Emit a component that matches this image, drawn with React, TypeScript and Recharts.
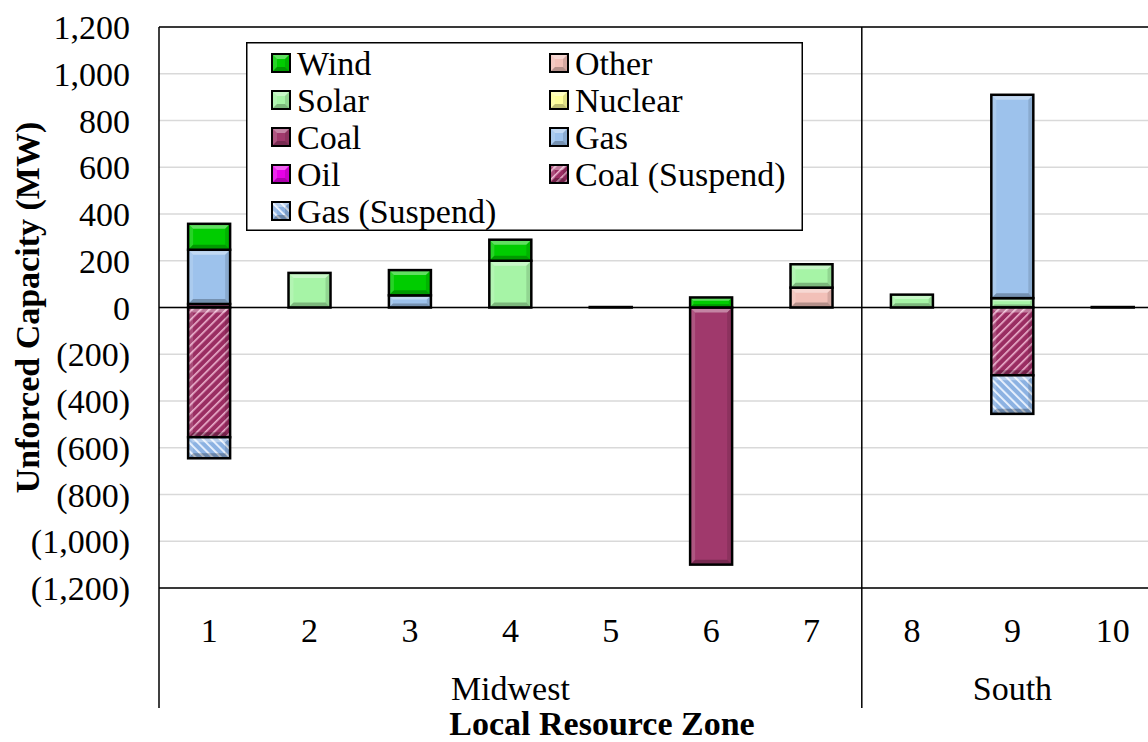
import React from 'react';
import { BarChart, Bar, XAxis, YAxis, CartesianGrid, ReferenceLine, Legend } from 'recharts';

// ---- data ----
const zones = ['1', '2', '3', '4', '5', '6', '7', '8', '9', '10'];
const regions = ['Midwest', 'Midwest', 'Midwest', 'Midwest', 'Midwest', 'Midwest', 'Midwest', 'South', 'South', 'South'];
const wind = [111, 0, 108, 90, 0, 43, 0, 0, 0, 0];
const solar = [0, 148, 0, 200, 2, 0, 100, 55, 40, 2];
const coal = [15, 0, 0, 0, 0, -1100, 0, 0, 0, 0];
const oil = [0, 0, 0, 0, 0, 0, 0, 0, 0, 0];
const other = [0, 0, 0, 0, 0, 0, 85, 0, 0, 0];
const nuclear = [0, 0, 0, 0, 0, 0, 0, 0, 0, 0];
const gas = [232, 0, 52, 0, 0, 0, 0, 0, 870, 0];
const coalSuspend = [-555, 0, 0, 0, 0, 0, 0, 0, -290, 0];
const gasSuspend = [-90, 0, 0, 0, 0, 0, 0, 0, -165, 0];
const yTicks = [-1200, -1000, -800, -600, -400, -200, 0, 200, 400, 600, 800, 1000, 1200];

// stacking order (bottom to top)
const series = [
  { key: 'coal', name: 'Coal', values: coal, fill: '#A0396C' },
  { key: 'oil', name: 'Oil', values: oil, fill: '#E800E8' },
  { key: 'other', name: 'Other', values: other, fill: '#F2C0B8' },
  { key: 'nuclear', name: 'Nuclear', values: nuclear, fill: '#FFFF99' },
  { key: 'solar', name: 'Solar', values: solar, fill: '#A6F4A6' },
  { key: 'gas', name: 'Gas', values: gas, fill: '#9DC2EC' },
  { key: 'wind', name: 'Wind', values: wind, fill: '#00CC00' },
  { key: 'coalSuspend', name: 'Coal (Suspend)', values: coalSuspend, fill: 'url(#pat-coalSuspend)' },
  { key: 'gasSuspend', name: 'Gas (Suspend)', values: gasSuspend, fill: 'url(#pat-gasSuspend)' },
];
const legendOrder = ['wind', 'other', 'solar', 'nuclear', 'coal', 'gas', 'oil', 'coalSuspend', 'gasSuspend'];

const data = zones.map((z, i) => {
  const row: Record<string, any> = { zone: z, region: regions[i] };
  series.forEach((s) => {
    row[s.key] = s.values[i] === 0 ? null : s.values[i];
  });
  return row;
});

// ---- layout ----
const CHART_W = 1204;
const CHART_H = 742;
const MARGIN = { top: 27, right: 41, bottom: 0, left: 0 };
const Y_AXIS_W = 159;
const X_AXIS_H = 154;
const PLOT_W = CHART_W - MARGIN.left - MARGIN.right - Y_AXIS_W;
const PLOT_H = CHART_H - MARGIN.top - MARGIN.bottom - X_AXIS_H;
const BAND = PLOT_W / zones.length;
const FONT = "'Liberation Serif', 'Times New Roman', Times, serif";
const FS = 34;
const LEG_W = 557;
const LEG_H = 189;

const fmt = (v: number) =>
  v < 0 ? `(${Math.abs(v).toLocaleString('en-US')})` : v.toLocaleString('en-US');

function PatternDefs({ prefix }: { prefix: string }) {
  return (
    <defs>
      <pattern id={`${prefix}-coalSuspend`} patternUnits="userSpaceOnUse" width="6" height="6" patternTransform="rotate(45)">
        <rect width="6" height="6" fill="#9A2D62" />
        <rect x="0" y="0" width="1.6" height="6" fill="#EDB3CF" />
      </pattern>
      <pattern id={`${prefix}-gasSuspend`} patternUnits="userSpaceOnUse" width="6" height="6" patternTransform="rotate(-45)">
        <rect width="6" height="6" fill="#8CB2E2" />
        <rect x="0" y="0" width="1.8" height="6" fill="#EEF5FF" />
      </pattern>
    </defs>
  );
}

// bevelled rectangle (Excel "soft bevel" look)
function bevelRect(x: number, y: number, w: number, h: number, fill: string, sw: number, key?: string) {
  let yy = y;
  let hh = h;
  if (hh < 0) {
    yy = y + hh;
    hh = -hh;
  }
  let xx = x;
  let ww = w;
  if (ww < 0) {
    xx = x + ww;
    ww = -ww;
  }
  const b = Math.max(0, Math.min(5, hh / 3, ww / 3));
  const x2 = xx + ww;
  const y2 = yy + hh;
  return (
    <g key={key}>
      <rect x={xx} y={yy} width={ww} height={hh} fill={fill} />
      {b > 0.6 && (
        <>
          <polygon points={`${xx},${yy} ${x2},${yy} ${x2 - b},${yy + b} ${xx + b},${yy + b}`} fill="#fff" opacity={0.38} />
          <polygon points={`${xx},${yy} ${xx + b},${yy + b} ${xx + b},${y2 - b} ${xx},${y2}`} fill="#fff" opacity={0.15} />
          <polygon points={`${x2},${yy} ${x2},${y2} ${x2 - b},${y2 - b} ${x2 - b},${yy + b}`} fill="#000" opacity={0.12} />
          <polygon points={`${xx},${y2} ${x2},${y2} ${x2 - b},${y2 - b} ${xx + b},${y2 - b}`} fill="#000" opacity={0.25} />
        </>
      )}
      <rect x={xx} y={yy} width={ww} height={hh} fill="none" stroke="#000" strokeWidth={sw} />
    </g>
  );
}

function BevelBar(props: any) {
  const { x, y, width, height, fill } = props;
  if (!width || height == null || isNaN(height)) return null;
  return bevelRect(x, y, width, height, fill, 2.5);
}

function ZoneTick(props: any) {
  const { x, y, payload } = props;
  const i = zones.indexOf(String(payload.value));
  const region = regions[i];
  const out: React.ReactNode[] = [
    <text key="n" x={x} y={y + 42} textAnchor="middle" dominantBaseline="central" fontFamily={FONT} fontSize={FS} fill="#000">
      {payload.value}
    </text>,
  ];
  if (i === 0 || regions[i - 1] !== region) {
    let n = 0;
    while (regions[i + n] === region) n++;
    const start = x - BAND / 2;
    out.push(
      <text key="r" x={start + (n * BAND) / 2} y={y + 100} textAnchor="middle" dominantBaseline="central" fontFamily={FONT} fontSize={FS} fill="#000">
        {region}
      </text>
    );
    out.push(
      <line key="l" x1={start} x2={start} y1={i === 0 ? y : y - PLOT_H} y2={y + 120} stroke="#000" strokeWidth={1.5} />
    );
  }
  return <g>{out}</g>;
}

function XTitle(props: any) {
  const vb = props.viewBox || {};
  return (
    <text x={CHART_W / 2} y={vb.y + vb.height - 19} textAnchor="middle" dominantBaseline="central" fontFamily={FONT} fontSize={FS} fontWeight="bold" fill="#000">
      Local Resource Zone
    </text>
  );
}

function YTitle(props: any) {
  const vb = props.viewBox || {};
  const cx = vb.x + 27;
  const cy = vb.y + vb.height / 2;
  return (
    <text x={cx} y={cy} transform={`rotate(-90 ${cx} ${cy})`} textAnchor="middle" dominantBaseline="central" fontFamily={FONT} fontSize={FS} fontWeight="bold" fill="#000">
      Unforced Capacity (MW)
    </text>
  );
}

function LegendBox() {
  const items = legendOrder.map((k) => series.find((s) => s.key === k)!);
  const rowH = 37;
  return (
    <svg width={LEG_W} height={LEG_H} style={{ display: 'block' }}>
      <PatternDefs prefix="lg" />
      <rect x={0.75} y={0.75} width={LEG_W - 1.5} height={LEG_H - 1.5} fill="#fff" stroke="#000" strokeWidth={1.5} />
      {items.map((s, idx) => {
        const col = idx % 2;
        const row = Math.floor(idx / 2);
        const cy = 21 + row * rowH;
        const sx = 26 + col * 278;
        const fill = s.fill.startsWith('url') ? `url(#lg-${s.key})` : s.fill;
        return (
          <g key={s.key}>
            {bevelRect(sx, cy - 9, 18, 18, fill, 2)}
            <text x={sx + 25} y={cy} dominantBaseline="central" fontFamily={FONT} fontSize={FS} fill="#000">
              {s.name}
            </text>
          </g>
        );
      })}
    </svg>
  );
}

export default function App() {
  return (
    <div style={{ position: 'absolute', left: 0, top: 0, width: 1148, height: 742, overflow: 'hidden', background: '#fff' }}>
      <BarChart
        width={CHART_W}
        height={CHART_H}
        data={data}
        margin={MARGIN}
        stackOffset="sign"
        barCategoryGap="29%"
      >
        <PatternDefs prefix="pat" />
        <CartesianGrid vertical={false} stroke="#D9D9D9" strokeWidth={1.5} />
        <XAxis
          dataKey="zone"
          height={X_AXIS_H}
          tickLine={false}
          tickSize={0}
          tickMargin={0}
          interval={0}
          axisLine={{ stroke: '#000', strokeWidth: 1.5 }}
          tick={<ZoneTick />}
          label={<XTitle />}
        />
        <YAxis
          width={Y_AXIS_W}
          domain={[-1200, 1200]}
          ticks={yTicks}
          interval={0}
          tickLine={false}
          tickMargin={23}
          tickFormatter={fmt}
          axisLine={{ stroke: '#000', strokeWidth: 1.5 }}
          tick={{ fill: '#000', fontFamily: FONT, fontSize: FS }}
          label={<YTitle />}
        />
        <ReferenceLine y={0} stroke="#000" strokeWidth={1.5} />
        <ReferenceLine y={1200} stroke="#000" strokeWidth={1.5} />
        {series.map((s) => (
          <Bar
            key={s.key}
            dataKey={s.key}
            name={s.name}
            stackId="a"
            fill={s.fill}
            shape={<BevelBar />}
            isAnimationActive={false}
          />
        ))}
        <Legend
          layout="horizontal"
          verticalAlign="middle"
          align="center"
          wrapperStyle={{ position: 'absolute', left: 246, top: 42, width: LEG_W, height: LEG_H }}
          content={<LegendBox />}
        />
      </BarChart>
    </div>
  );
}
